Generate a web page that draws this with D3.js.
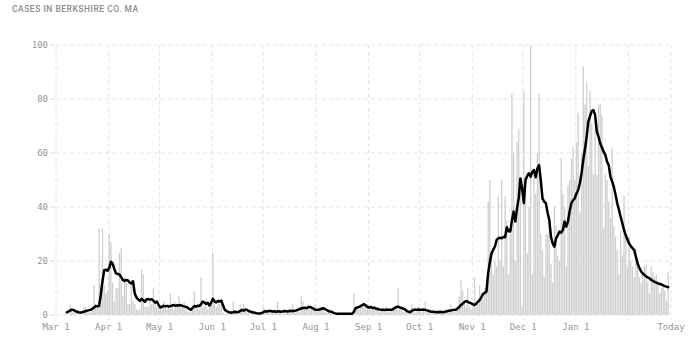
<!DOCTYPE html>
<html>
<head>
<meta charset="utf-8">
<script src="https://cdn.jsdelivr.net/npm/d3@7"></script>
<style>
    body { margin: 0; background: #fff; }
    .title { font-family: Roboto, "Noto Sans", sans-serif; font-size: 8.5px; font-weight: 500; letter-spacing: 0.5px; fill: #8c8c8c; }
    .tick-label { font-family: "DejaVu Sans Mono", monospace; font-size: 9px; fill: #969696; }
    .grid { stroke: #e4e4e4; stroke-width: 1; stroke-dasharray: 4,3; fill: none; }
</style>
</head>
<body>
<div id="chart"></div>
<script>
// first day of the series (index 0)
let startDate = new Date(2020, 2, 1);
let todayDate = new Date(2021, 1, 26);

// daily new cases, one value per day from Mar 1 2020
let dailyCases = [
    0,0,0,0,0,0,1,0,4,1,          // Mar 1
    2,1,1,0,1,0,3,3,1,2,
    1,2,11,4,3,32,11,32,11,8,
    9,30,27,12,5,10,10,23,25,7,   // Mar 31
    14,12,4,4,13,5,4,2,2,2,
    17,15,3,3,3,6,4,10,4,3,
    4,2,3,5,3,2,4,8,3,2,          // Apr 30
    5,3,7,4,3,5,2,2,1,1,
    3,9,3,4,2,14,4,3,6,2,
    4,5,23,4,3,5,4,6,1,0,         // May 30
    1,0,1,1,5,1,1,0,4,1,
    4,2,1,2,0,1,0,1,0,1,
    1,0,3,1,2,1,2,1,1,2,          // Jun 29
    5,1,1,0,2,1,1,2,2,4,
    1,2,3,1,7,5,2,3,4,2,
    3,2,4,1,2,3,3,2,1,1,          // Jul 29
    1,2,1,0,1,0,1,0,0,1,
    1,0,1,0,0,8,3,2,3,4,
    5,4,3,4,2,3,3,2,3,2,          // Aug 28
    1,2,2,1,3,2,1,2,3,2,
    3,10,2,3,1,2,1,0,1,4,
    2,1,2,3,2,1,2,5,1,1,          // Sep 27
    2,1,1,0,1,2,1,1,1,2,
    1,2,4,2,1,2,3,7,13,9,
    5,3,10,3,2,4,14,3,4,11,       // Oct 27
    8,6,10,10,42,50,22,15,20,18,
    44,20,50,18,44,35,15,30,82,60,
    20,64,69,50,3,83,45,23,40,100, // Nov 26
    15,54,45,60,82,30,24,14,30,30,
    35,19,12,40,33,22,20,58,45,40,
    18,48,50,58,62,50,64,75,38,60, // Dec 26
    92,78,86,55,83,71,52,74,52,78,
    78,74,32,52,50,42,36,62,33,29,
    24,15,31,22,44,30,18,29,20,18, // Jan 25
    14,25,20,14,12,16,18,19,12,8,
    18,16,14,15,11,8,10,11,9,5,16
];

// seven day average, same days as dailyCases
let avgCases = [
    null,null,null,null,null,null,1.0,1.3,1.6,2.0,
    1.8,1.5,1.2,1.0,0.9,1.0,1.2,1.4,1.6,1.8,
    1.9,2.3,2.8,3.3,3.2,3.4,7.4,12.5,16.5,16.8,
    16.4,17.5,19.7,19.0,17.0,15.4,15.2,15.0,14.0,13.0,
    12.6,13.0,12.8,12.0,11.7,12.5,8.0,6.5,5.8,5.2,
    6.0,5.5,4.9,5.8,5.9,5.7,5.8,5.3,4.6,5.0,
    3.8,2.8,3.0,3.4,3.2,3.4,3.1,3.3,3.5,3.7,
    3.4,3.6,3.5,3.7,3.4,3.2,3.0,2.8,2.3,1.9,
    2.6,3.3,3.1,3.4,3.3,4.0,5.0,4.6,4.1,4.5,
    3.5,4.6,6.0,5.0,4.7,5.2,5.0,5.3,3.5,1.9,
    1.5,1.2,0.9,0.9,1.0,1.2,1.0,1.1,1.4,1.9,
    1.6,2.0,1.9,1.5,1.3,1.0,0.9,0.8,0.6,0.6,
    0.6,0.8,1.2,1.4,1.3,1.5,1.5,1.3,1.4,1.2,
    1.3,1.4,1.2,1.3,1.5,1.4,1.3,1.5,1.6,1.4,
    1.6,1.7,1.9,2.2,2.4,2.6,2.7,2.5,2.8,3.0,
    2.8,2.4,2.0,1.9,1.9,2.1,2.3,2.5,2.2,1.8,
    1.5,1.3,1.2,0.8,0.6,0.5,0.5,0.5,0.5,0.5,
    0.5,0.5,0.5,0.5,0.5,1.2,2.5,2.8,3.0,3.3,
    3.7,4.0,3.5,3.0,2.7,3.0,2.6,2.7,2.4,2.2,
    2.0,1.9,2.0,1.8,2.0,1.9,1.9,1.9,2.1,2.6,
    3.0,3.1,2.8,2.6,2.4,2.1,1.6,1.2,1.0,1.5,
    1.9,2.0,1.9,2.0,1.9,1.9,2.0,1.9,1.7,1.5,
    1.3,1.2,1.2,1.0,1.1,1.0,1.2,1.0,1.1,1.3,
    1.4,1.6,1.7,1.8,1.9,1.9,2.4,3.0,3.7,4.2,
    4.8,5.2,4.9,4.6,4.3,4.0,3.7,4.2,4.9,5.5,
    6.5,7.8,8.2,8.6,15.4,19.5,22.8,24.2,25.3,27.8,
    28.4,28.6,28.4,28.9,28.8,32.5,31.0,30.9,35.0,38.3,
    34.6,39.5,43.2,50.6,47.0,41.4,50.0,51.5,52.5,51.2,
    53.0,53.7,51.0,54.3,55.5,50.0,43.2,42.0,41.4,38.0,
    35.2,29.0,26.5,25.3,28.4,29.5,30.9,30.5,31.5,34.6,
    32.7,34.6,38.5,41.4,42.5,43.2,45.0,46.3,48.8,52.5,
    57.4,61.5,66.0,71.6,73.7,75.5,75.9,74.0,67.9,66.0,
    63.5,62.0,60.5,59.3,56.8,55.5,51.2,49.5,47.5,44.5,
    41.4,39.0,36.4,34.0,31.5,29.5,28.0,26.5,25.5,24.8,
    24.0,21.5,19.1,17.5,16.2,15.4,14.8,14.3,13.9,13.6,
    13.0,12.6,12.3,12.0,11.7,11.5,11.3,11.0,10.7,10.5,10.3
];

// x axis ticks (Feb 1 has a gridline but no label)
let xTickDates = ["2020-03-01","2020-04-01","2020-05-01","2020-06-01","2020-07-01","2020-08-01",
                  "2020-09-01","2020-10-01","2020-11-01","2020-12-01","2021-01-01","2021-02-01","2021-02-26"];
let xTickLabels = ["Mar 1","Apr 1","May 1","Jun 1","Jul 1","Aug 1",
                   "Sep 1","Oct 1","Nov 1","Dec 1","Jan 1","","Today"];
let yTicks = [0, 20, 40, 60, 80, 100];

let width = 699, height = 355;
let margin = {top: 45, right: 28, bottom: 40, left: 56};

let parseDate = d3.timeParse("%Y-%m-%d");
let data = dailyCases.map((d, i) => ({date: d3.timeDay.offset(startDate, i), cases: d, avg: avgCases[i]}));

let svg = d3.select("#chart").append("svg")
    .attr("width", width)
    .attr("height", height);

let x = d3.scaleTime()
    .domain([startDate, todayDate])
    .range([margin.left, width - margin.right]);

let y = d3.scaleLinear()
    .domain([0, 100])
    .range([height - margin.bottom, margin.top]);

//title
svg.append("text")
    .attr("class", "title")
    .attr("x", 12)
    .attr("y", 12)
    .text("CASES IN BERKSHIRE CO. MA");

//horizontal gridlines + y labels
svg.selectAll(".ygrid")
    .data(yTicks)
    .enter().append("line")
    .attr("class", "grid")
    .attr("x1", margin.left)
    .attr("x2", width - margin.right)
    .attr("y1", d => y(d))
    .attr("y2", d => y(d));

//short solid tick next to each label
svg.selectAll(".ytick")
    .data(yTicks)
    .enter().append("line")
    .attr("x1", margin.left - 6)
    .attr("x2", margin.left - 1)
    .attr("y1", d => y(d))
    .attr("y2", d => y(d))
    .style("stroke", "#dcdcdc");

svg.selectAll(".ylabel")
    .data(yTicks)
    .enter().append("text")
    .attr("class", "tick-label")
    .attr("x", margin.left - 8)
    .attr("y", d => y(d))
    .attr("dy", "0.35em")
    .attr("text-anchor", "end")
    .text(d => d);

//vertical gridlines + x labels
let xTicks = xTickDates.map((d, i) => ({date: parseDate(d), label: xTickLabels[i]}));

svg.selectAll(".xgrid")
    .data(xTicks)
    .enter().append("line")
    .attr("class", "grid")
    .attr("x1", d => x(d.date))
    .attr("x2", d => x(d.date))
    .attr("y1", margin.top)
    .attr("y2", height - margin.bottom + 5);

svg.selectAll(".xlabel")
    .data(xTicks)
    .enter().append("text")
    .attr("class", "tick-label")
    .attr("x", d => x(d.date))
    .attr("y", height - margin.bottom + 12)
    .attr("dy", "0.35em")
    .attr("text-anchor", "middle")
    .text(d => d.label);

//daily bars
svg.append("g")
    .selectAll("rect")
    .data(data.filter(d => d.cases > 0))
    .enter().append("rect")
    .attr("x", d => x(d.date))
    .attr("y", d => y(d.cases))
    .attr("width", 1.25)
    .attr("height", d => y(0) - y(d.cases))
    .style("fill", "#cdcdcd");

//7 day average line
let line = d3.line()
    .defined(d => d.avg !== null)
    .x(d => x(d.date) + 0.6)
    .y(d => y(d.avg));

svg.append("path")
    .datum(data)
    .attr("d", line)
    .attr("fill", "none")
    .attr("stroke", "#000")
    .attr("stroke-width", 2.5)
    .attr("stroke-linejoin", "round")
    .attr("stroke-linecap", "round");
</script>
</body>
</html>
